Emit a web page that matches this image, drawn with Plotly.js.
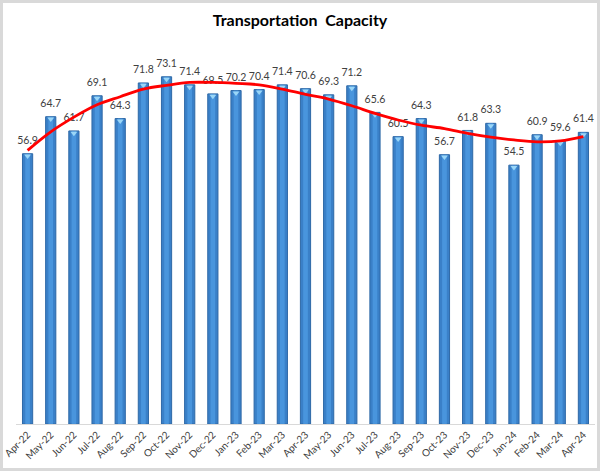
<!DOCTYPE html>
<html>
<head>
<meta charset="utf-8">
<script src="https://cdn.plot.ly/plotly-3.0.1.min.js"></script>
<style>
  html, body { margin: 0; padding: 0; background: #fff; }
  #wrap { position: relative; width: 600px; height: 471px; }
  #chart { width: 600px; height: 471px; }
  #frame { position: absolute; left: 0; top: 0; width: 600px; height: 471px; box-sizing: border-box; border: 3px solid #D9D9D9; pointer-events: none; }
</style>
</head>
<body>
<div id="wrap"><div id="chart"></div><div id="frame"></div></div>
<script>
const months = ["Apr-22","May-22","Jun-22","Jul-22","Aug-22","Sep-22","Oct-22","Nov-22","Dec-22","Jan-23","Feb-23","Mar-23","Apr-23","May-23","Jun-23","Jul-23","Aug-23","Sep-23","Oct-23","Nov-23","Dec-23","Jan-24","Feb-24","Mar-24","Apr-24"];
const capacity = [56.9,64.7,61.7,69.1,64.3,71.8,73.1,71.4,69.5,70.2,70.4,71.4,70.6,69.3,71.2,65.6,60.5,64.3,56.7,61.8,63.3,54.5,60.9,59.6,61.4];
const trend = [57.6,61.5,64.6,67.2,68.9,70.5,71.3,71.9,71.9,71.7,71.4,70.5,69.4,68.4,67.0,65.4,64.0,62.9,62.2,61.2,60.4,59.8,59.4,59.6,60.5];

const labelFont = {family: "Lato, 'Open Sans', sans-serif", size: 10.5, color: "#404040"};

const traces = [
  {
    type: "bar", x: months, y: capacity, width: 0.44,
    marker: {color: "#3A80C8", line: {color: "#2E68A6", width: 1}},
    hoverinfo: "x+y", showlegend: false
  },
  {
    type: "bar", x: months, y: capacity, width: 0.2,
    marker: {color: "#4F9DE4", line: {width: 0}}, opacity: 0.75,
    hoverinfo: "skip", showlegend: false
  },
  {
    type: "scatter", mode: "markers", x: months, y: capacity.map(v => v - 0.5),
    marker: {symbol: "triangle-down", size: 6, color: "#9AD6F7", line: {width: 0}},
    hoverinfo: "skip", showlegend: false, cliponaxis: false
  },
  {
    type: "scatter", mode: "markers+text", x: months, y: capacity,
    text: capacity.map(v => v.toFixed(1)), textposition: "top center",
    textfont: labelFont, marker: {size: 10, opacity: 0},
    hoverinfo: "skip", showlegend: false, cliponaxis: false
  },
  {
    type: "scatter", mode: "lines", x: months, y: trend,
    line: {color: "#FF0000", width: 2.8, shape: "spline", smoothing: 1},
    hoverinfo: "skip", showlegend: false
  }
];

const layout = {
  width: 600, height: 471,
  margin: {l: 16, r: 5, t: 44, b: 47},
  paper_bgcolor: "#FFFFFF", plot_bgcolor: "#FFFFFF",
  barmode: "overlay",
  title: {text: "Transportation  Capacity", x: 0.5, xanchor: "center", y: 0.957, yanchor: "middle",
          font: {family: "Lato, 'Open Sans', sans-serif", size: 16, color: "#000000", weight: "bold"}},
  xaxis: {
    type: "category", tickangle: -45, showline: true, linecolor: "#D9D9D9", linewidth: 1,
    ticks: "", showgrid: false, zeroline: false,
    tickfont: {family: "Lato, 'Open Sans', sans-serif", size: 10, color: "#404040"},
    range: [-0.5, 24.5]
  },
  yaxis: {range: [0, 80], visible: false, showgrid: false, zeroline: false}
};

Plotly.newPlot("chart", traces, layout, {displayModeBar: false, staticPlot: true});
</script>
</body>
</html>
